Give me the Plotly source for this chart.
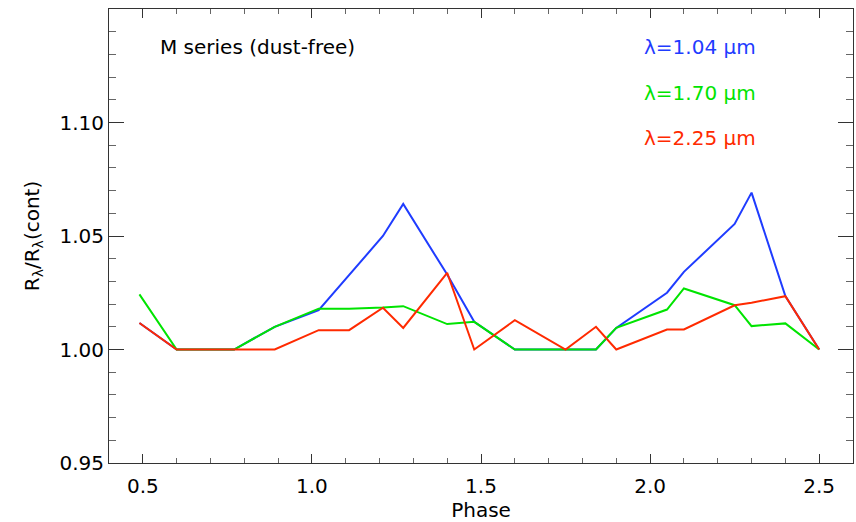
import plotly.graph_objects as go

phase = [0.49, 0.60, 0.77, 0.89, 1.02, 1.11, 1.21, 1.27, 1.40, 1.48,
         1.60, 1.75, 1.84, 1.90, 2.05, 2.10, 2.25, 2.30, 2.40, 2.50]

r_104 = [1.0117, 1.000, 1.000, 1.010, 1.0173, 1.033, 1.050, 1.0641, 1.033, 1.0122,
         1.000, 1.000, 1.000, 1.0095, 1.025, 1.0342, 1.0553, 1.0691, 1.0235, 1.000]
r_170 = [1.0243, 1.000, 1.000, 1.010, 1.018, 1.018, 1.0185, 1.0191, 1.0112, 1.0122,
         1.000, 1.000, 1.000, 1.0095, 1.0176, 1.0269, 1.0195, 1.0103, 1.0115, 1.000]
r_225 = [1.0117, 1.000, 1.000, 1.000, 1.0085, 1.0085, 1.0184, 1.0095, 1.0338, 1.000,
         1.0129, 1.000, 1.010, 1.000, 1.0088, 1.0088, 1.0195, 1.0206, 1.0235, 1.000]

series = [
    ("λ=1.04 μm", r_104, "#1f3cff"),
    ("λ=1.70 μm", r_170, "#00e400"),
    ("λ=2.25 μm", r_225, "#ff2a00"),
]

FONT = "DejaVu Sans"
fig = go.Figure()
for name, ys, col in series:
    fig.add_trace(go.Scatter(x=phase, y=ys, mode="lines", name=name,
                             line=dict(color=col, width=2), showlegend=False))

# labels
fig.add_annotation(x=0.545, y=1.1333, xref="x", yref="y", text="M series (dust-free)",
                   showarrow=False, xanchor="left", yanchor="middle",
                   font=dict(family=FONT, size=20, color="black"))
label_y = [1.1333, 1.1130, 1.0931]
for (name, ys, col), ly in zip(series, label_y):
    fig.add_annotation(x=1.975, y=ly, xref="x", yref="y", text=name,
                       showarrow=False, xanchor="left", yanchor="middle",
                       font=dict(family=FONT, size=20, color=col))

axis_common = dict(showgrid=False, zeroline=False, showline=True, linecolor="#333",
                   linewidth=1, mirror="ticks", ticks="inside", tickcolor="#333",
                   tickfont=dict(family=FONT, size=20, color="black"))

fig.update_xaxes(range=[0.4, 2.6], tickvals=[0.5, 1.0, 1.5, 2.0, 2.5],
                 ticktext=["0.5", "1.0", "1.5", "2.0", "2.5"], ticklen=9,
                 ticklabelstandoff=5,
                 minor=dict(ticks="inside", ticklen=5, dtick=0.1, tick0=0.4, tickcolor="#666"),
                 title=dict(text="Phase", font=dict(family=FONT, size=20, color="black"), standoff=6),
                 **axis_common)
fig.update_yaxes(range=[0.95, 1.15], tickvals=[0.95, 1.00, 1.05, 1.10],
                 ticktext=["0.95", "1.00", "1.05", "1.10"], ticklen=15,
                 minor=dict(ticks="inside", ticklen=7, dtick=0.01, tick0=0.95, tickcolor="#666"),
                 title=dict(text="R<sub>λ</sub>/R<sub>λ</sub>(cont)",
                            font=dict(family=FONT, size=20, color="black"), standoff=14),
                 **axis_common)

fig.update_layout(width=856, height=522, margin=dict(l=109, r=3, t=9, b=59),
                  plot_bgcolor="white", paper_bgcolor="white")

fig.write_html("out.html")
